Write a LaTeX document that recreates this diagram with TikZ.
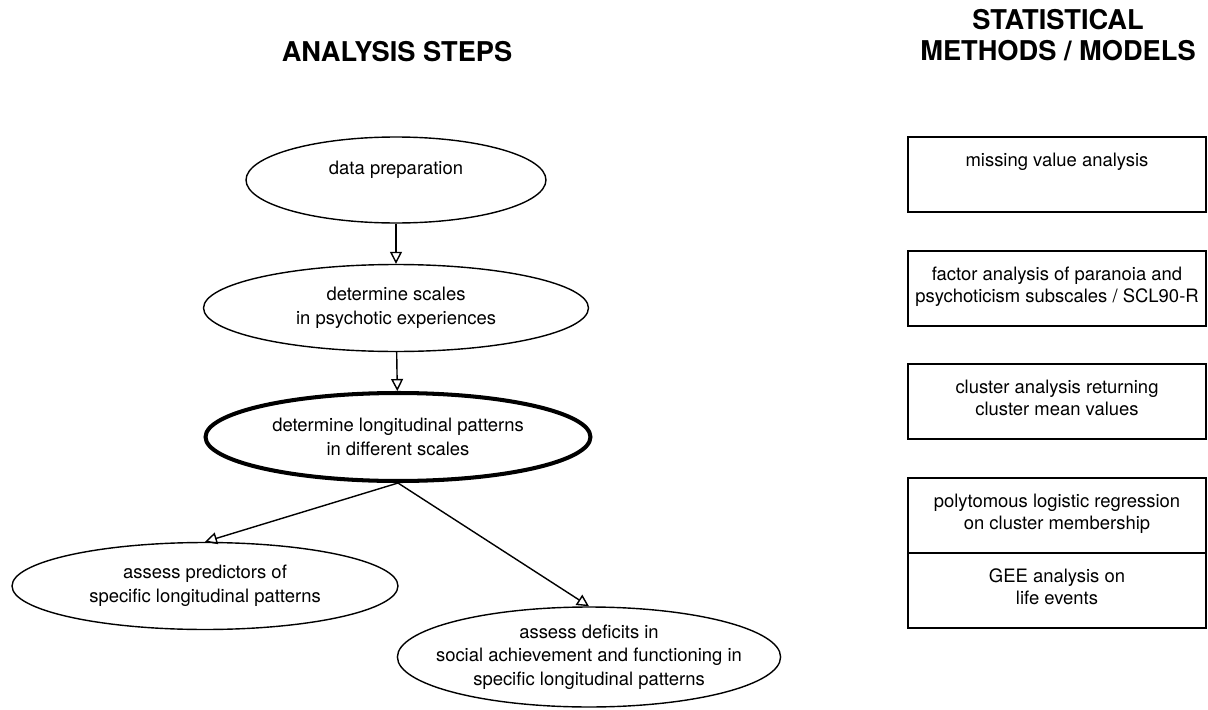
\documentclass[tikz,border=0pt]{standalone}
\usepackage{fontspec}
\setmainfont{TeX Gyre Heros}
\usetikzlibrary{shapes.geometric,arrows.meta}

\newcommand{\mtext}[1]{\parbox[c][1.5cm][t]{5.8cm}{\centering\vspace*{9pt}#1}}

\begin{document}
\begin{tikzpicture}[x=0.02cm,y=-0.02cm]
		\tikzset{stepnode/.style = {shape=ellipse, draw, line width=0.8pt, inner sep=0pt, minimum width=7.7cm, minimum height=1.74cm, align=center, font=\fontsize{10.5}{13.5}\selectfont}}
		\tikzset{method/.style = {shape=rectangle, draw, line width=0.8pt, inner sep=0pt, minimum width=5.96cm, minimum height=1.5cm, font=\fontsize{10.5}{12.5}\selectfont}}
		\tikzset{flow/.style = {-{Triangle[open, length=0.24cm, width=0.24cm]}, line width=0.8pt}}
		\tikzset{title/.style = {align=center, font=\fontsize{15.5}{17.5}\selectfont\bfseries}}

		\useasboundingbox (0,0) rectangle (1208,710);

		\node[title] (T_1) at (397,52) {ANALYSIS STEPS};
		\node[title] (T_2) at (1058,35) {STATISTICAL\\METHODS / MODELS};

		\node[stepnode, minimum width=6cm, minimum height=1.72cm] (S_1) at (396,180) {data preparation\\\mbox{}};
		\node[stepnode] (S_2) at (396,308) {determine scales\\in psychotic experiences};
		\node[stepnode, line width=2.3pt, minimum height=1.76cm] (S_3) at (398,437) {determine longitudinal patterns\\in different scales};
		\node[stepnode, minimum width=7.72cm] (S_4) at (205,586) {assess predictors of\\specific longitudinal patterns};
		\node[stepnode, inner xsep=-0.35cm, minimum width=7.64cm, minimum height=2cm] (S_5) at (589,657) {assess deficits in\\social achievement and functioning in\\specific longitudinal patterns};

		\draw[flow] (S_1)--(S_2);
		\draw[flow] (S_2)--(S_3);
		\draw[flow] (S_3.south)--(S_4.north);
		\draw[flow] (S_3.south)--(S_5.north);

		\node[method] (M_1) at (1057,174.5) {\mtext{missing value analysis}};
		\node[method] (M_2) at (1057,288.5) {\mtext{factor analysis of paranoia and\\psychoticism subscales / SCL90-R}};
		\node[method] (M_3) at (1057,401.5) {\mtext{cluster analysis returning\\cluster mean values}};
		\node[method] (M_4) at (1057,515.5) {\mtext{polytomous logistic regression\\on cluster membership}};
		\node[method] (M_5) at (1057,590.5) {\mtext{GEE analysis on\\life events}};

	\end{tikzpicture}
\end{document}
